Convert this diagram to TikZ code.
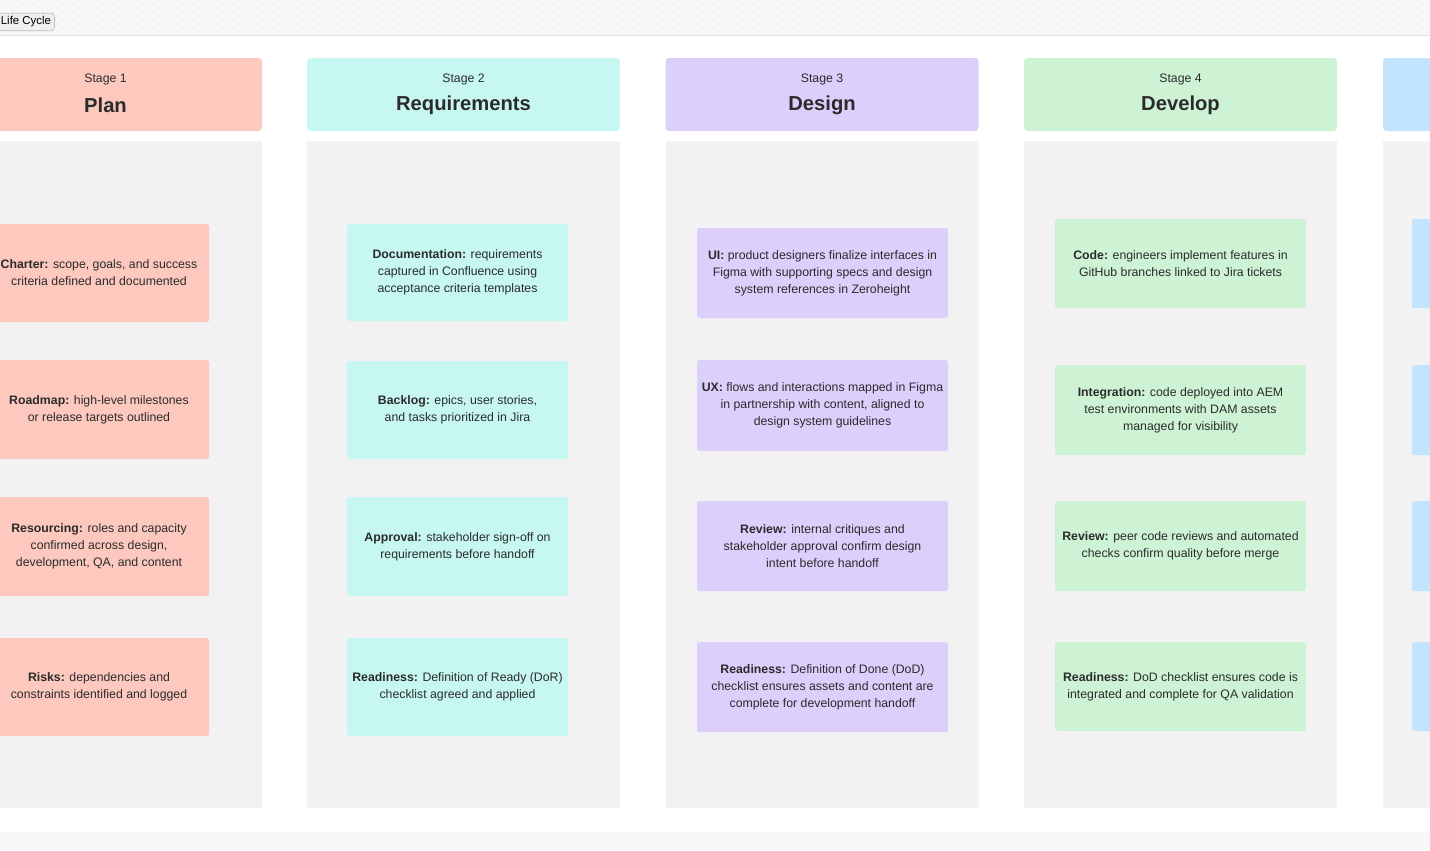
\documentclass[tikz,border=0pt]{standalone}
\usepackage{fontspec}
\setmainfont{Liberation Sans}
\definecolor{planc}{HTML}{FDC9BE}
\definecolor{reqc}{HTML}{C6F7F1}
\definecolor{desc}{HTML}{DCCFFB}
\definecolor{devc}{HTML}{CEF3D4}
\definecolor{tstc}{HTML}{C3E4FE}
\definecolor{lanec}{HTML}{F2F2F2}
\definecolor{inkc}{HTML}{2B2B2B}
\tikzset{
  head/.style={rounded corners=2pt, minimum width=313*0.02cm, minimum height=73*0.02cm, inner sep=0pt},
  card/.style={rounded corners=1pt, inner sep=0pt, align=center, font=\fontsize{7}{9.7}\selectfont, text=inkc},
}
\begin{document}
\begin{tikzpicture}[x=0.02cm,y=-0.02cm]
\useasboundingbox (0,0) rectangle (1430,850);
% dotted canvas bands
\fill[black!3] (0,0) rectangle (1430,35);
\fill[black!3] (0,832) rectangle (1430,850);
\foreach \i in {0,...,142} {
  \foreach \j in {4,12,20,28} \fill[black!18] (\i*10+3,\j) circle (0.6);
  \foreach \j in {837,845} \fill[black!18] (\i*10+3,\j) circle (0.6);
}
\draw[black!12] (0,35) -- (1430,35);
\node[draw=black!25, fill=black!6, rounded corners=2pt, font=\fontsize{6.5}{8}\selectfont, inner sep=2pt, anchor=west] (title) at (-3,22) {Life Cycle};

% lanes
\foreach \x in {-51,307,666,1024,1383} \fill[lanec] (\x,141) rectangle ++(313,667);

% headers
\node[head, fill=planc] (h1) at (105.5,94.5) {};
\node[head, fill=reqc] (h2) at (463.5,94.5) {};
\node[head, fill=desc] (h3) at (822,94.5) {};
\node[head, fill=devc] (h4) at (1180.5,94.5) {};
\node[head, fill=tstc] (h5) at (1539.5,94.5) {};
\foreach \n/\t/\c in {h1/1/Plan,h2/2/Requirements,h3/3/Design,h4/4/Develop} {
  \node[font=\fontsize{7}{8}\selectfont, text=inkc] (s\n) at ([yshift=15*0.02cm]\n.center) {Stage \t};
  \node[font=\fontsize{11.5}{13}\selectfont\bfseries, text=inkc] (t\n) at ([yshift=-11*0.02cm]\n.center) {\c};
}

% Stage 1 cards
\node[card, fill=planc, minimum width=220*0.02cm, minimum height=98*0.02cm] (p1) at (99,273) {\textbf{Charter:} scope, goals, and success\\criteria defined and documented};
\node[card, fill=planc, minimum width=220*0.02cm, minimum height=99*0.02cm] (p2) at (99,409.5) {\textbf{Roadmap:} high-level milestones\\or release targets outlined};
\node[card, fill=planc, minimum width=220*0.02cm, minimum height=99*0.02cm] (p3) at (99,546.5) {\textbf{Resourcing:} roles and capacity\\confirmed across design,\\development, QA, and content};
\node[card, fill=planc, minimum width=220*0.02cm, minimum height=98*0.02cm] (p4) at (99,687) {\textbf{Risks:} dependencies and\\constraints identified and logged};

% Stage 2 cards
\node[card, fill=reqc, minimum width=221*0.02cm, minimum height=97*0.02cm] (r1) at (457.5,272.5) {\textbf{Documentation:} requirements\\captured in Confluence using\\acceptance criteria templates};
\node[card, fill=reqc, minimum width=221*0.02cm, minimum height=98*0.02cm] (r2) at (457.5,410) {\textbf{Backlog:} epics, user stories,\\and tasks prioritized in Jira};
\node[card, fill=reqc, minimum width=221*0.02cm, minimum height=99*0.02cm] (r3) at (457.5,546.5) {\textbf{Approval:} stakeholder sign-off on\\requirements before handoff};
\node[card, fill=reqc, minimum width=221*0.02cm, minimum height=98*0.02cm] (r4) at (457.5,687) {\textbf{Readiness:} Definition of Ready (DoR)\\checklist agreed and applied};

% Stage 3 cards
\node[card, fill=desc, minimum width=251*0.02cm, minimum height=90*0.02cm] (d1) at (822.5,273) {\textbf{UI:} product designers finalize interfaces in\\Figma with supporting specs and design\\system references in Zeroheight};
\node[card, fill=desc, minimum width=251*0.02cm, minimum height=91*0.02cm] (d2) at (822.5,405.5) {\textbf{UX:} flows and interactions mapped in Figma\\in partnership with content, aligned to\\design system guidelines};
\node[card, fill=desc, minimum width=251*0.02cm, minimum height=90*0.02cm] (d3) at (822.5,546) {\textbf{Review:} internal critiques and\\stakeholder approval confirm design\\intent before handoff};
\node[card, fill=desc, minimum width=251*0.02cm, minimum height=90*0.02cm] (d4) at (822.5,687) {\textbf{Readiness:} Definition of Done (DoD)\\checklist ensures assets and content are\\complete for development handoff};

% Stage 4 cards
\node[card, fill=devc, minimum width=251*0.02cm, minimum height=89*0.02cm] (v1) at (1180.5,263.5) {\textbf{Code:} engineers implement features in\\GitHub branches linked to Jira tickets};
\node[card, fill=devc, minimum width=251*0.02cm, minimum height=90*0.02cm] (v2) at (1180.5,410) {\textbf{Integration:} code deployed into AEM\\test environments with DAM assets\\managed for visibility};
\node[card, fill=devc, minimum width=251*0.02cm, minimum height=90*0.02cm] (v3) at (1180.5,546) {\textbf{Review:} peer code reviews and automated\\checks confirm quality before merge};
\node[card, fill=devc, minimum width=251*0.02cm, minimum height=89*0.02cm] (v4) at (1180.5,686.5) {\textbf{Readiness:} DoD checklist ensures code is\\integrated and complete for QA validation};

% Stage 5 cards (cut off)
\node[card, fill=tstc, minimum width=251*0.02cm, minimum height=89*0.02cm] (q1) at (1537.5,263.5) {};
\node[card, fill=tstc, minimum width=251*0.02cm, minimum height=90*0.02cm] (q2) at (1537.5,410) {};
\node[card, fill=tstc, minimum width=251*0.02cm, minimum height=90*0.02cm] (q3) at (1537.5,546) {};
\node[card, fill=tstc, minimum width=251*0.02cm, minimum height=89*0.02cm] (q4) at (1537.5,686.5) {};
\end{tikzpicture}
\end{document}
